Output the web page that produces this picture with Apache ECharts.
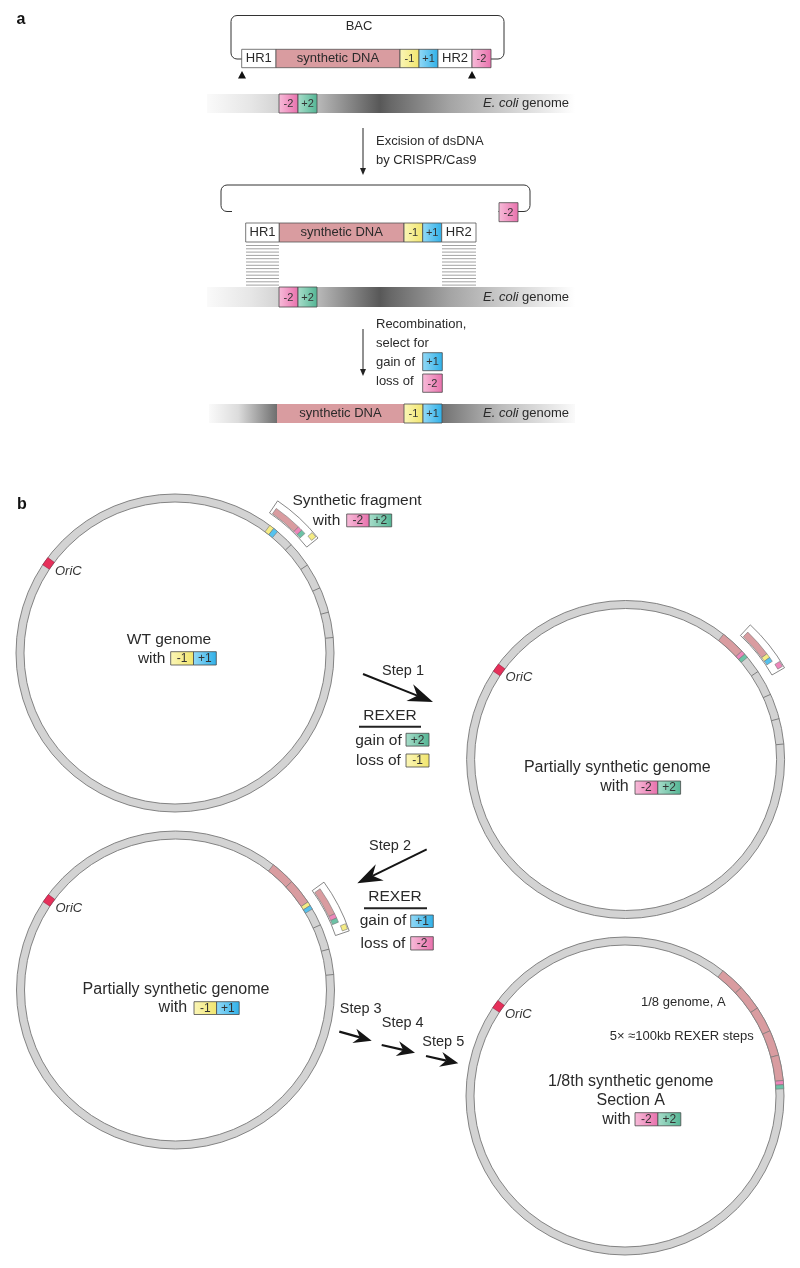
<!DOCTYPE html>
<html><head><meta charset="utf-8">
<script src="https://cdn.jsdelivr.net/npm/echarts@6/dist/echarts.min.js"></script>
<style>html,body{margin:0;padding:0;background:#fff}#c{width:800px;height:1268px}</style>
</head><body><div id="c"></div>
<script>
// ---------------- data ----------------
const markerLabels = ['-1', '+1', '-2', '+2'];
const markerGradients = [['#fbf6b8', '#f1e56c'], ['#93d9f6', '#2fb0e8'], ['#f7bcd9', '#e870ac'], ['#a8ddca', '#53b594']];
const markerFlat = ['#f5ec84', '#55c2ee', '#ee86ba', '#6cc2a6'];
const bacParts = ['HR1', 'synthetic DNA', '-1', '+1', 'HR2', '-2'];
const excisionText = ['Excision of dsDNA', 'by CRISPR/Cas9'];
const recombinationText = ['Recombination,', 'select for', 'gain of', 'loss of'];
const recombinationMarkers = ['+1', '-2'];
const stepLabels = ['Step 1', 'Step 2', 'Step 3', 'Step 4', 'Step 5'];
const rexerGain = ['+2', '+1'];
const rexerLoss = ['-1', '-2'];
const segmentBoundaries = [52, 43, 33.6, 24.2, 14.9, 5.6]; // degrees along the genome ring
const syntheticSegmentsDone = [0, 1, 2, 5];
const genomeTitles = [['WT genome'], ['Partially synthetic genome'], ['Partially synthetic genome'], ['1/8th synthetic genome', 'Section A']];
const genomeMarkers = [['-1', '+1'], ['-2', '+2'], ['-1', '+1'], ['-2', '+2']];
const fragmentParts = [['-2', '+2', '-1'], ['-1', '+1', '-2'], ['-2', '+2', '-1']];
const sectionNotes = ['1/8 genome, A', '5\u00d7 \u2248100kb REXER steps'];

// ---------------- drawing helpers ----------------
const FONT = '"Liberation Sans", Arial, Helvetica, sans-serif';
const TXT = '#2a2a2a';
const els = [];
function R(x, y, w, h, fill, stroke, lw, r) {
  els.push({ type: 'rect', shape: { x, y, width: w, height: h, r: r || 0 }, style: { fill: fill, stroke: stroke || null, lineWidth: lw || 0 } });
}
function L(x1, y1, x2, y2, stroke, lw) {
  els.push({ type: 'line', shape: { x1, y1, x2, y2 }, style: { stroke, lineWidth: lw } });
}
function P(points, fill) {
  els.push({ type: 'polygon', shape: { points }, style: { fill } });
}
function T(x, y, text, size, o) {
  o = o || {};
  els.push({ type: 'text', x, y, style: {
    text, fill: o.fill || TXT,
    font: (o.italic ? 'italic ' : '') + (o.bold ? 'bold ' : '') + size + 'px ' + FONT,
    align: o.align || 'center', verticalAlign: 'middle', textAlign: o.align || 'center', textVerticalAlign: 'middle'
  } });
}
function mIdx(l) { return markerLabels.indexOf(l); }
function grad(l) {
  const g = markerGradients[mIdx(l)];
  return new echarts.graphic.LinearGradient(0, 0, 1, 0, [{ offset: 0, color: g[0] }, { offset: 1, color: g[1] }]);
}
function markerBox(l, x, y, w, h, fs) {
  R(x, y, w, h, grad(l), '#4a4a4a', 0.8);
  T(x + w / 2, y + h / 2 + 0.5, l, fs, { fill: '#333' });
}
function genomeBar(x1, x2, y, h, stops) {
  R(x1, y, x2 - x1, h, new echarts.graphic.LinearGradient(0, 0, 1, 0, stops.map(s => ({ offset: s[0], color: s[1] }))));
}
function ecoliLabel(y) {
  els.push({ type: 'text', x: 569, y, style: {
    text: '{i|E. coli} genome', rich: { i: { fontStyle: 'italic', fontSize: 13, fontFamily: FONT, fill: TXT } },
    fontSize: 13, fontFamily: FONT, fill: TXT, align: 'right', verticalAlign: 'middle'
  } });
}
function smallArrow(x, y1, y2) {
  L(x, y1, x, y2 - 6, '#222', 1);
  P([[x, y2], [x - 3, y2 - 7], [x + 3, y2 - 7]], '#222');
}
function bigArrow(x1, y1, x2, y2, Lh, W, lw) {
  const dx = x2 - x1, dy = y2 - y1, len = Math.hypot(dx, dy), ux = dx / len, uy = dy / len, nx = -uy, ny = ux;
  const bx = x2 - Lh * ux, by = y2 - Lh * uy, mx = x2 - 0.68 * Lh * ux, my = y2 - 0.68 * Lh * uy;
  L(x1, y1, mx, my, '#151515', lw);
  P([[x2, y2], [bx + W * nx, by + W * ny], [mx, my], [bx - W * nx, by - W * ny]], '#151515');
}
const rad = a => a * Math.PI / 180;
function sector(cx, cy, r0, r, a1, a2, fill, stroke, lw) {
  els.push({ type: 'sector', shape: { cx, cy, r0, r, startAngle: -rad(a1), endAngle: -rad(a2), clockwise: true }, style: { fill, stroke, lineWidth: lw } });
}
function radial(cx, cy, r0, r, a, stroke, lw) {
  const c = Math.cos(rad(a)), s = Math.sin(rad(a));
  L(cx + r0 * c, cy - r0 * s, cx + r * c, cy - r * s, stroke, lw);
}
const SYN = '#d99ca0';
const R0 = 151, R1 = 159;
function genome(k, cx, cy) {
  els.push({ type: 'ring', shape: { cx, cy, r: R1, r0: R0 }, style: { fill: '#d3d3d3', stroke: '#777', lineWidth: 0.9 } });
  sector(cx, cy, R0, R1, 146.3, 143.1, '#e6305a', '#9a2444', 0.6);
  T(cx - 120, cy - 82, 'OriC', 13, { italic: true, align: 'left', fill: '#333' });
  const B = segmentBoundaries, n = syntheticSegmentsDone[k], mk = genomeMarkers[k];
  let tickFrom;
  if (n === 0) {
    sector(cx, cy, R0, R1, 53.4, 51.6, markerFlat[mIdx(mk[0])], '#777', 0.6);
    sector(cx, cy, R0, R1, 51.6, 49.8, markerFlat[mIdx(mk[1])], '#777', 0.6);
    tickFrom = 1;
  } else {
    for (let i = 0; i < n; i++) sector(cx, cy, R0, R1, B[i], B[i + 1], SYN, '#7a7a7a', 0.7);
    sector(cx, cy, R0, R1, B[n], B[n] - 1.5, markerFlat[mIdx(mk[0])], '#777', 0.6);
    sector(cx, cy, R0, R1, B[n] - 1.5, B[n] - 3.0, markerFlat[mIdx(mk[1])], '#777', 0.6);
    tickFrom = n + 1;
  }
  for (let i = tickFrom; i < B.length; i++) radial(cx, cy, R0, R1, B[i], '#6a6a6a', 0.8);
}
function fragment(k, cx, cy, aStart) {
  const parts = fragmentParts[k];
  const a1 = aStart, a2 = aStart - 9.4, a3 = a2 - 1.5, a4 = a3 - 1.5, m1 = a4 - 1.3, m2 = m1 - 1.8;
  sector(cx, cy, 169, 183.5, a1 + 1.0, m2 - 0.7, '#ffffff', '#555', 0.7);
  sector(cx, cy, 170, 176.5, a1, a2, SYN, '#777', 0.6);
  sector(cx, cy, 170, 176.5, a2, a3, markerFlat[mIdx(parts[0])], '#777', 0.6);
  sector(cx, cy, 170, 176.5, a3, a4, markerFlat[mIdx(parts[1])], '#777', 0.6);
  sector(cx, cy, 177, 182.5, m1, m2, markerFlat[mIdx(parts[2])], '#777', 0.6);
}
function withBoxes(tx, ty, labels, bx, by, bw, bh, fs, fsb) {
  T(tx, ty, 'with', fs);
  labels.forEach((l, i) => markerBox(l, bx + i * bw, by, bw, bh, fsb));
}

// ---------------- panel a ----------------
T(21, 20, 'a', 16, { bold: true, fill: '#111' });
// BAC
R(231, 15.5, 273, 43.5, null, '#333', 1, 6);
T(359, 26, 'BAC', 13);
const bacX = [241.7, 276, 400, 419, 438, 472, 491];
const bacFill = ['#fff', SYN, null, null, '#fff', null];
bacParts.forEach((p, i) => {
  const x = bacX[i], w = bacX[i + 1] - bacX[i];
  if (mIdx(p) >= 0) markerBox(p, x, 49.3, w, 18.4, 11);
  else { R(x, 49.3, w, 18.4, bacFill[i], '#555', 0.8); T(x + w / 2, 58.8, p, 13); }
});
P([[242, 71], [238, 78.5], [246, 78.5]], '#111');
P([[472, 71], [468, 78.5], [476, 78.5]], '#111');
const g1 = [[0, '#fafafa'], [0.12, '#e6e6e6'], [0.3, '#b9b9b9'], [0.47, '#585858'], [0.5, '#686868'], [0.66, '#a4a4a4'], [0.85, '#d8d8d8'], [1, '#ffffff']];
genomeBar(207, 575, 94, 19, g1);
markerBox('-2', 279, 94, 19, 19, 11);
markerBox('+2', 298, 94, 19, 19, 11);
ecoliLabel(103.5);
smallArrow(363, 128, 175);
T(376, 141, excisionText[0], 13, { align: 'left' });
T(376, 160, excisionText[1], 13, { align: 'left' });
// excised BAC
R(221, 185, 309, 26.5, null, '#333', 1, 6);
R(232, 208.5, 266.5, 6, '#fff');
markerBox('-2', 499, 202.7, 19, 19, 11);
const bac2X = [245.7, 279.3, 404, 422.7, 441.7, 476];
bacParts.slice(0, 5).forEach((p, i) => {
  const x = bac2X[i], w = bac2X[i + 1] - bac2X[i];
  if (mIdx(p) >= 0) markerBox(p, x, 223, w, 19, 11);
  else { R(x, 223, w, 19, bacFill[i], '#555', 0.8); T(x + w / 2, 232.8, p, 13); }
});
for (let i = 0; i < 13; i++) {
  const y = 245.5 + i * 3.3;
  L(246, y, 279, y, '#8a8a8a', 0.8);
  L(442, y, 476, y, '#8a8a8a', 0.8);
}
genomeBar(207, 575, 287, 20, g1);
markerBox('-2', 279, 287, 19, 20, 11);
markerBox('+2', 298, 287, 19, 20, 11);
ecoliLabel(297);
smallArrow(363, 329, 376);
T(376, 324, recombinationText[0], 13, { align: 'left' });
T(376, 343, recombinationText[1], 13, { align: 'left' });
T(376, 362, recombinationText[2], 13, { align: 'left' });
T(376, 381, recombinationText[3], 13, { align: 'left' });
markerBox(recombinationMarkers[0], 422.7, 352.7, 19.6, 18, 11);
markerBox(recombinationMarkers[1], 422.7, 374, 19.6, 18.3, 11);
const g3 = [[0, '#fafafa'], [0.08, '#dcdcdc'], [0.19, '#6a6a6a'], [0.64, '#747474'], [0.8, '#bdbdbd'], [1, '#fafafa']];
genomeBar(209, 575, 404, 19, g3);
R(277, 404, 127, 19, SYN);
T(340.5, 413.8, 'synthetic DNA', 13);
markerBox('-1', 404, 404, 19, 19, 11);
markerBox('+1', 423, 404, 19, 19, 11);
ecoliLabel(413.5);

// ---------------- panel b ----------------
T(22, 505, 'b', 16, { bold: true, fill: '#111' });
const C = [[175, 653], [625.6, 759.5], [175.5, 990], [625, 1096]];
C.forEach((c, k) => genome(k, c[0], c[1]));
fragment(0, C[0][0], C[0][1], 55);
fragment(1, C[1][0], C[1][1], 46.2);
fragment(2, C[2][0], C[2][1], 35);

// genome 1
T(169, 639.5, genomeTitles[0][0], 15.5);
withBoxes(151.7, 658.5, genomeMarkers[0], 170.7, 651.7, 22.8, 13.3, 15.5, 12);
T(357, 501, 'Synthetic fragment', 15.5);
withBoxes(326.5, 520.3, fragmentParts[0].slice(0, 2), 346.7, 514, 22.5, 12.8, 15.5, 12);
// genome 2
T(617.3, 768, genomeTitles[1][0], 16);
withBoxes(614.5, 786.5, genomeMarkers[1], 635, 781, 22.8, 13.2, 16, 12);
// genome 3
T(176, 989.5, genomeTitles[2][0], 16);
withBoxes(172.8, 1008, genomeMarkers[2], 194, 1001.7, 22.6, 12.8, 16, 12);
// genome 4
T(683.3, 1002, sectionNotes[0], 13);
T(681.7, 1036.3, sectionNotes[1], 13);
T(630.7, 1082, genomeTitles[3][0], 16);
T(630.7, 1101, genomeTitles[3][1], 16);
withBoxes(616.5, 1119.5, genomeMarkers[3], 635, 1112.7, 22.9, 13.1, 16, 12);

// step 1
T(403, 671, stepLabels[0], 14.5);
bigArrow(363, 674, 433, 702, 25, 9, 2);
T(390, 715.5, 'REXER', 15.5);
L(359, 726.7, 421, 726.7, '#222', 2);
T(378.5, 740.5, 'gain of', 15.5);
markerBox(rexerGain[0], 406, 733.3, 23, 12.8, 12);
T(378.5, 760.5, 'loss of', 15.5);
markerBox(rexerLoss[0], 406, 754, 23, 13, 12);
// step 2
T(390, 845.5, stepLabels[1], 14.5);
bigArrow(426.7, 849.3, 357.3, 883.3, 25, 9, 2);
T(395, 896.5, 'REXER', 15.5);
L(364, 908.3, 427, 908.3, '#222', 2);
T(383, 920.5, 'gain of', 15.5);
markerBox(rexerGain[1], 410.7, 915, 22.6, 12.5, 12);
T(383, 943.5, 'loss of', 15.5);
markerBox(rexerLoss[1], 410.7, 936.7, 22.6, 13.3, 12);
// steps 3-5
T(360.7, 1008.5, stepLabels[2], 14.5);
bigArrow(339.3, 1031.7, 371.7, 1040.7, 18, 7.5, 2.3);
T(402.7, 1023, stepLabels[3], 14.5);
bigArrow(381.7, 1045, 415, 1052.7, 18, 7.5, 2.3);
T(443.3, 1042, stepLabels[4], 14.5);
bigArrow(426, 1056, 458.3, 1063.3, 18, 7.5, 2.3);

const chart = echarts.init(document.getElementById('c'), null, { renderer: 'canvas' });
chart.setOption({ animation: false, graphic: { elements: els } });
</script></body></html>
